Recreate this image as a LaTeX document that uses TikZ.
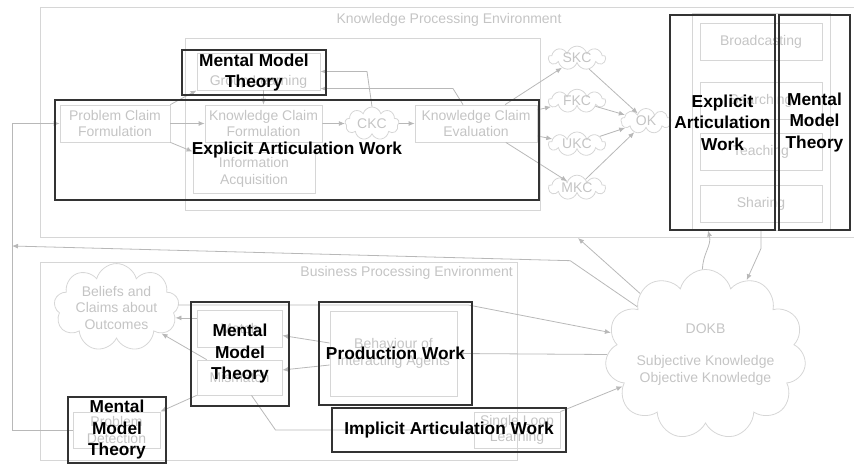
\documentclass[tikz,border=0pt]{standalone}
\usepackage{fontspec}
\setmainfont{Liberation Sans}
\usetikzlibrary{positioning,arrows.meta,shapes.symbols}

\definecolor{paleline}{HTML}{D6D6D6}
\definecolor{paletext}{HTML}{C4C4C4}
\definecolor{arrowgray}{HTML}{B8B8B8}
\definecolor{boldline}{HTML}{333333}

\begin{document}
\begin{tikzpicture}[
    x=1pt, y=-1pt,
    wh/.style 2 args = {minimum width=#1pt, minimum height=#2pt},
    env/.style  = {draw=paleline, line width=0.9pt, inner sep=0pt},
    task/.style = {draw=paleline, line width=0.8pt, text=paletext, align=center,
                   inner sep=0pt, font=\fontsize{14}{16.5}\selectfont},
    kc/.style   = {cloud, cloud puffs=9, cloud ignores aspect, draw=paleline,
                   line width=0.8pt, text=paletext, align=center, inner sep=0pt,
                   font=\fontsize{14}{16.5}\selectfont},
    work/.style = {draw=boldline, line width=1.4pt, align=center, inner sep=0pt,
                   font=\bfseries\fontsize{17.3}{21.5}\selectfont},
    arr/.style  = {-{Latex[length=6pt,width=5pt]}, draw=arrowgray, line width=0.8pt},
    note/.style = {text=paletext, font=\fontsize{14}{16.5}\selectfont},
]
\useasboundingbox (0,0) rectangle (854,465);

% --- knowledge processing environment ---
\node[env, wh={818}{230}] (kpe) at (449,122) {};
\node[note, below=3pt of kpe.north] (kpetitle) {Knowledge Processing Environment};
\node[env, wh={355}{172}] (kprod) at (362.5,124) {};

\node[task, wh={123}{37}, text height=31pt, text depth=3pt] (grp) at (258.5,71.5) {Group Learning};
\node[task, wh={110}{37}] (pcf) at (115,123.5) {Problem Claim\\Formulation};
\node[task, wh={117}{37}] (kcf) at (263.5,123.5) {Knowledge Claim\\Formulation};
\node[kc, wh={54}{33}] (ckc) at (372,123.5) {CKC};
\node[task, wh={122}{37}] (kce) at (476,123.5) {Knowledge Claim\\Evaluation};
\node[task, wh={122}{41}] (inf) at (254,172.5) {Information\\Acquisition};

% --- claim outcomes ---
\node[kc, wh={57}{22}] (skc) at (577,58) {SKC};
\node[kc, wh={57}{22}] (fkc) at (577,101) {FKC};
\node[kc, wh={57}{22}] (ukc) at (577,144) {UKC};
\node[kc, wh={57}{22}] (mkc) at (577,187.5) {MKC};
\node[kc, wh={50}{25}] (ok) at (646,121) {OK};

% --- knowledge integration ---
\node[env, wh={138}{217}] (kint) at (761,121.5) {};
\node[task, wh={122}{37}] (bcast) at (761,41.5) {Broadcasting};
\node[task, wh={122}{37}] (srch) at (761,100.5) {Searching};
\node[task, wh={122}{37}] (teach) at (761,151.5) {Teaching};
\node[task, wh={122}{37}] (share) at (761,203.5) {Sharing};

% --- business processing environment ---
\node[env, wh={477}{198}] (bpe) at (278.5,361) {};
\node[note, below left=1pt and 1pt of bpe.north east] (bpetitle) {Business Processing Environment};
\node[kc, wh={125}{58}] (belief) at (116.5,307.5) {Beliefs and\\Claims about\\Outcomes};
\node[task, wh={85}{37}] (match) at (239.5,328.5) {Match};
\node[task, wh={85}{35}] (mism) at (239.5,377.5) {Mismatch};
\node[task, wh={127}{85}] (behav) at (393.5,353.5) {Behaviour of\\Interacting Agents};
\node[task, wh={87}{36}] (pdet) at (116.5,430) {Problem\\Detection};
\node[task, wh={86}{36}] (sll) at (517,430) {Single Loop\\Learning};

% --- DOKB ---
\node[kc, cloud puffs=11, wh={201}{170}] (dokb) at (705.5,354.5)
    {DOKB\\[16pt]\makebox[0pt]{Subjective Knowledge}\\\makebox[0pt]{Objective Knowledge}};

\coordinate (loopL) at (12,246);
\coordinate (kpein) at (578,238);

% --- arrows, knowledge side ---
\draw[arr] (pcf) -- (kcf);
\draw[arr] (pcf.north east) -- (grp.south west);
\draw[arr] (pcf.south east) -- (inf.north west);
\draw[arr] (kcf.north |- grp.south) -- (kcf.north);
\draw[arr] (kcf) -- (ckc);
\draw[arr] (ckc) -- (kce);
\draw[arr] (ckc.north) -- ([xshift=-5pt]ckc.north |- grp.east) -- (grp.east);
\draw[arr] ([xshift=-13pt]kce.north) -- ++(-10,-16) coordinate (kback) -- (kback -| grp.east);
\foreach \c in {skc,fkc,ukc,mkc} {
  \draw[arr] (kce) -- (\c);
  \draw[arr] (\c) -- (ok);
}

% --- arrows, business side ---
\draw[arr] ([yshift=2.5pt]belief.east) -- ++(290,0) -- (dokb.167);
\draw[arr] (dokb.west) -- (behav.east);
\draw[arr] ([yshift=10.5pt]behav.west) -- ([yshift=-7pt]match.east);
\draw[arr] ([yshift=-11.5pt]behav.west) -- ([yshift=7.5pt]mism.east);
\draw[arr] (belief.350 -| match.west) -- (belief.350);
\draw[arr] ([xshift=10pt]mism.north west) -- (belief.330);
\draw[arr] (mism.south west) -- (pdet.north east);
\draw[arr] ([xshift=12pt]mism.south) -- ([xshift=36pt]mism.south |- sll.west) -- (sll.west);
\draw[arr] (sll.north east) -- (dokb.201);
\draw[arr] (pdet.west) -- (loopL |- pdet.west) -- (loopL |- pcf.west) -- (pcf.west);
\draw[arr] (dokb.145) -- ++(-67,-46) -- (loopL);
\draw[arr] (dokb.137) -- (kpein);
\draw[arr] (dokb.92) to[out=90, in=-75] ([xshift=-53pt]kint.south);
\draw[arr] (kint.south) -- ++(0,18) -- (dokb.61);

% --- work overlays ---
\node[work, wh={144}{45}] (mmtop) at (254,72.5) {Mental Model\\Theory};
\node[work, wh={484}{100}] (eawbig) at (297,150) {Explicit Articulation Work};
\node[work, wh={105}{215}] (eawint) at (722.5,122.5) {Explicit\\Articulation\\Work};
\node[work, wh={71}{215}] (mmtint) at (814.5,122.5) {Mental\\Model\\Theory};
\node[work, wh={98}{104}] (mmtbiz) at (240,354) {Mental\\Model\\Theory};
\node[work, wh={153}{103}] (prodw) at (395.5,353.5) {Production Work};
\node[work, wh={234}{44}] (impw) at (449,430) {Implicit Articulation Work};
\node[work, wh={98}{66}] (mmtdet) at (117,430) {Mental\\Model\\Theory};

\end{tikzpicture}
\end{document}
